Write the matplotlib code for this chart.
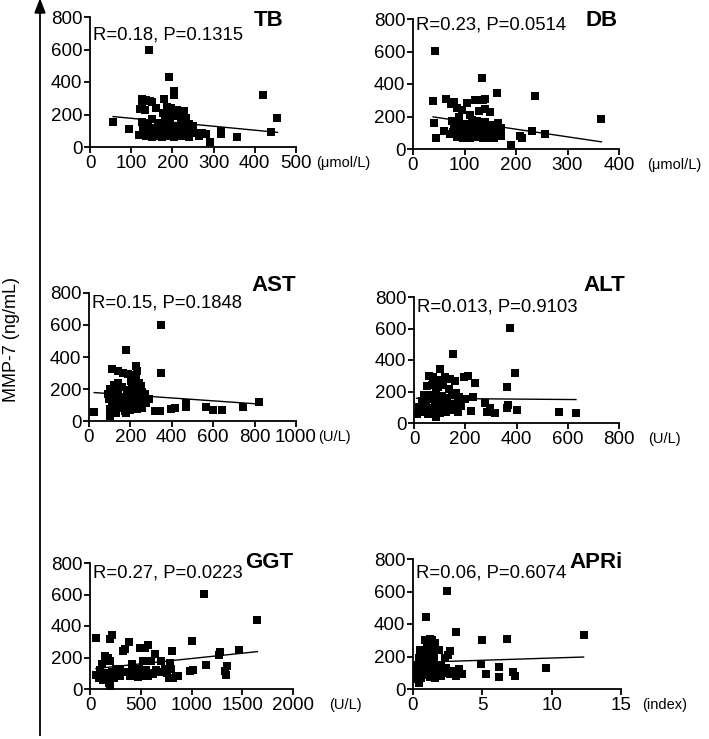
import numpy as np
import matplotlib
matplotlib.use("Agg")
import matplotlib.pyplot as plt

plt.rcParams['font.family'] = ['Liberation Sans', 'DejaVu Sans']

# ---- data ----
tb_x = [56, 94, 142, 191, 203, 205, 179, 127, 135, 145, 150, 125, 160, 122, 133, 187, 197, 212,
        228, 176, 186, 200, 214, 232, 150, 125, 140, 165, 183, 195, 220, 240, 128, 145, 160, 172,
        190, 205, 225, 240, 250, 132, 150, 165, 180, 195, 210, 230, 245, 260, 120, 135, 155, 170,
        185, 200, 215, 235, 150, 175, 205, 240, 265, 272, 282, 292, 318, 318, 357, 419, 440, 455]
tb_y = [154, 109, 598, 432, 345, 318, 298, 298, 290, 285, 275, 265, 240, 235, 225, 248, 240, 230,
        220, 210, 200, 195, 190, 180, 170, 155, 150, 150, 160, 155, 150, 140, 120, 115, 110, 118,
        120, 125, 118, 112, 130, 95, 90, 95, 88, 92, 100, 95, 90, 85, 75, 70, 72, 68,
        66, 70, 65, 68, 60, 60, 60, 60, 70, 85, 78, 28, 80, 100, 64, 318, 93, 178]

db_x = [42, 39, 41, 44, 134, 163, 236, 366, 232, 257, 207, 212, 190, 65, 74, 80, 86, 105, 95, 120,
        135, 140, 128, 140, 150, 110, 90, 75, 85, 100, 115, 125, 140, 155, 165, 170, 80, 95, 108,
        120, 130, 145, 160, 78, 90, 100, 112, 125, 140, 150, 165, 170, 85, 98, 110, 122, 135, 148,
        158, 105, 118, 132, 148, 60, 72]
db_y = [605, 293, 158, 68, 440, 345, 325, 182, 112, 90, 80, 70, 22, 305, 275, 290, 250, 282, 240,
        300, 300, 305, 235, 245, 230, 210, 200, 170, 160, 155, 180, 170, 165, 150, 160, 130, 130,
        120, 125, 130, 110, 120, 110, 105, 95, 90, 100, 92, 95, 88, 90, 80, 75, 70, 68, 72, 65,
        70, 68, 140, 145, 140, 140, 110, 95]

ast_x = [25, 348, 177, 348, 229, 232, 111, 140, 165, 190, 215, 140, 120, 205, 225, 240, 250, 100,
         130, 160, 185, 210, 230, 255, 270, 90, 115, 140, 170, 195, 225, 250, 280, 95, 120, 150,
         175, 200, 235, 260, 290, 110, 135, 160, 190, 215, 245, 275, 100, 125, 150, 175, 200, 230,
         255, 100, 318, 342, 398, 414, 471, 471, 563, 600, 642, 745, 823, 130, 180]
ast_y = [57, 600, 442, 297, 345, 315, 325, 310, 300, 295, 285, 240, 225, 250, 260, 240, 220, 200,
         205, 215, 195, 200, 185, 180, 170, 170, 160, 170, 150, 160, 150, 150, 140, 135, 130, 125,
         140, 120, 130, 120, 135, 100, 95, 105, 90, 100, 95, 110, 75, 70, 80, 65, 70, 75,
         80, 32, 60, 60, 78, 80, 110, 90, 90, 67, 67, 88, 120, 50, 50]

alt_x = [374, 152, 100, 393, 361, 211, 197, 237, 567, 632, 400, 367, 361, 315, 276, 283, 296, 221,
         230, 60, 75, 90, 120, 140, 160, 50, 70, 95, 115, 135, 165, 40, 65, 85, 110, 130, 150, 175,
         30, 55, 80, 100, 125, 145, 170, 20, 45, 65, 90, 115, 135, 160, 185, 10, 35, 55, 80, 100,
         125, 150, 170, 85, 200]
alt_y = [605, 435, 344, 320, 230, 298, 295, 255, 68, 61, 82, 115, 95, 61, 125, 72, 95, 78,
         163, 300, 290, 275, 290, 280, 265, 235, 240, 230, 240, 215, 190, 180, 175, 190, 170, 160,
         175, 165, 140, 150, 140, 130, 145, 120, 130, 100, 110, 95, 105, 100, 90, 105, 110, 60, 70,
         60, 75, 65, 70, 80, 70, 35, 150]

ggt_x = [1121, 1649, 59, 213, 200, 1000, 803, 574, 545, 380, 345, 330, 1469, 1272, 1276, 1141,
         1354, 1338, 1330, 1016, 984, 820, 850, 870, 410, 492, 640, 700, 600, 520, 150, 180, 200,
         120, 260, 300, 350, 420, 460, 480, 550, 580, 620, 740, 790, 760, 800, 100, 140, 170, 220,
         250, 300, 390, 470, 520, 570, 60, 90, 130, 160, 190, 195, 240, 700, 650, 780]
ggt_y = [605, 440, 324, 343, 315, 302, 239, 280, 262, 300, 255, 240, 250, 218, 233, 155,
         146, 91, 112, 118, 112, 70, 85, 80, 159, 260, 225, 178, 178, 180, 210, 200, 175,
         160, 130, 130, 110, 115, 100, 130, 120, 100, 95, 130, 165, 100, 130, 120, 100, 90, 110,
         90, 85, 80, 75, 80, 85, 90, 70, 60, 75, 40, 20, 70, 110, 120, 70]

apri_x = [2.48, 0.96, 3.09, 12.3, 4.94, 6.8, 4.87, 5.26, 6.2, 6.22, 7.23, 7.35, 9.57, 3.5, 3.1,
          2.9, 3.3, 2.65, 2.5, 1.88, 0.9, 1.2, 1.4, 1.6, 1.0, 0.5, 0.8, 1.3, 0.4, 0.7, 1.1, 1.5,
          2.3, 0.3, 0.6, 1.0, 1.3, 1.7, 2.0, 2.4, 0.2, 0.5, 0.8, 1.2, 1.5, 1.9, 2.2, 2.7, 0.3,
          0.6, 0.9, 1.2, 1.6, 2.0, 0.4, 0.2, 1.4, 1.8]
apri_y = [605, 441, 349, 330, 300, 310, 156, 94, 133, 74, 103, 78, 129, 94, 78,
          110, 125, 232, 210, 242, 300, 305, 300, 285, 270, 240, 230, 235, 190, 180, 190, 200,
          190, 150, 160, 145, 155, 150, 140, 130, 110, 120, 115, 110, 100, 115, 100, 90, 80,
          70, 85, 75, 70, 80, 40, 60, 130, 95]

# regression lines (intercept, slope) as drawn in the figure
fits = {'TB': (201, -0.244), 'DB': (216, -0.47), 'AST': (180, -0.09),
        'ALT': (157, -0.013), 'GGT': (126, 0.0675), 'APRi': (163, 2.75)}

stats_text = {'TB': 'R=0.18, P=0.1315', 'DB': 'R=0.23, P=0.0514',
              'AST': 'R=0.15, P=0.1848', 'ALT': 'R=0.013, P=0.9103',
              'GGT': 'R=0.27, P=0.0223', 'APRi': 'R=0.06, P=0.6074'}
units = {'TB': '(\u03bcmol/L)', 'DB': '(\u03bcmol/L)', 'AST': '(U/L)',
         'ALT': '(U/L)', 'GGT': '(U/L)', 'APRi': '(index)'}
x_max = {'TB': 500, 'DB': 400, 'AST': 1000, 'ALT': 800, 'GGT': 2000, 'APRi': 15}
x_step = {'TB': 100, 'DB': 100, 'AST': 200, 'ALT': 200, 'GGT': 500, 'APRi': 5}

panels = [('TB', tb_x, tb_y), ('DB', db_x, db_y), ('AST', ast_x, ast_y),
          ('ALT', alt_x, alt_y), ('GGT', ggt_x, ggt_y), ('APRi', apri_x, apri_y)]

# layout (pixel boxes) and label placement per panel
W, H = 709, 739
boxes = {'TB': (90, 17, 296, 147), 'DB': (413, 19, 619, 149),
         'AST': (89, 293, 296, 421), 'ALT': (414, 297, 619, 423),
         'GGT': (90, 563, 293, 689), 'APRi': (413, 559, 621, 689)}
title_pos = {'TB': (0.94, 0.97), 'DB': (0.995, 0.99), 'AST': (1.0, 1.06),
             'ALT': (1.03, 1.09), 'GGT': (1.0, 1.0), 'APRi': (1.01, 0.97)}
stat_y = {'TB': 0.86, 'DB': 0.95, 'AST': 0.92, 'ALT': 0.92, 'GGT': 0.92, 'APRi': 0.89}
unit_x = {'TB': 1.10, 'DB': 1.135, 'AST': 1.105, 'ALT': 1.14, 'GGT': 1.18, 'APRi': 1.10}

fig = plt.figure(figsize=(W / 100, H / 100), dpi=100)

for name, xs, ys in panels:
    l, t, r, b = boxes[name]
    ax = fig.add_axes([l / W, 1 - b / H, (r - l) / W, (b - t) / H])
    ax.plot(xs, ys, 's', color='black', markersize=5.6, markeredgewidth=0)
    a, k = fits[name]
    lx = np.array([min(xs), max(xs)])
    ax.plot(lx, a + k * lx, color='black', linewidth=1.0)

    ax.set_xlim(0, x_max[name])
    ax.set_ylim(0, 800)
    ax.set_xticks(np.arange(0, x_max[name] + 1, x_step[name]))
    ax.set_yticks([0, 200, 400, 600, 800])
    for s in ['top', 'right']:
        ax.spines[s].set_visible(False)
    for s in ['left', 'bottom']:
        ax.spines[s].set_linewidth(1.3)
    ax.tick_params(direction='out', length=4, width=1.3, labelsize=13.5, pad=1.5)
    ax.patch.set_alpha(0)

    tx, ty = title_pos[name]
    ax.text(tx, ty, name, transform=ax.transAxes, ha='right', va='center',
            fontsize=16, fontweight='bold')
    ax.text(0.015, stat_y[name], stats_text[name], transform=ax.transAxes,
            ha='left', va='center', fontsize=13.3)
    ax.text(unit_x[name], -0.125, units[name], transform=ax.transAxes,
            ha='left', va='center', fontsize=10.5)

# shared y axis arrow and label
fig.add_artist(plt.Line2D([40 / W, 40 / W], [1 - 735 / H, 1 - 10 / H],
                          color='black', linewidth=1.3))
fig.patches.append(plt.Polygon([[35 / W, 1 - 13 / H], [45 / W, 1 - 13 / H], [40 / W, 1 - 0 / H]],
                               closed=True, color='black', transform=fig.transFigure))
fig.text(12 / W, 1 - 340 / H, 'MMP-7 (ng/mL)', rotation=90, ha='center', va='center',
         fontsize=13)

fig.savefig('out.png', dpi=100)
